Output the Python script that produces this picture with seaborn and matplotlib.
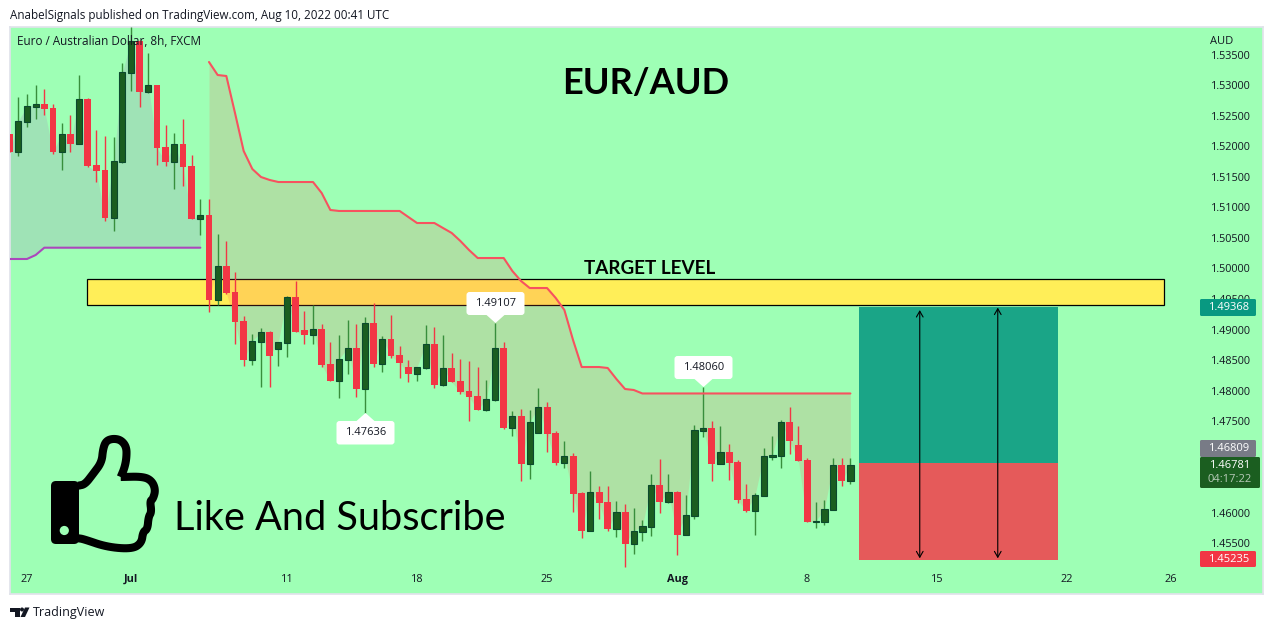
import numpy as np
import pandas as pd
import matplotlib
matplotlib.use("Agg")
import matplotlib.pyplot as plt
import seaborn as sns
from matplotlib.patches import Rectangle, FancyBboxPatch, Polygon, Circle

# EUR/AUD 8h candles
opens = [1.52200, 1.51910, 1.52401, 1.52646, 1.52686, 1.52625, 1.51910, 1.52195, 1.52041, 1.52773,
         1.51692, 1.51611, 1.50825, 1.51741, 1.53202, 1.53722, 1.52887, 1.52997, 1.51987, 1.51741,
         1.52037, 1.51676, 1.50809, 1.50874, 1.49483, 1.50039, 1.49613, 1.49139, 1.48501, 1.48800,
         1.48959, 1.48681, 1.48784, 1.49532, 1.48992, 1.48910, 1.49008, 1.48435, 1.48157, 1.48501,
         1.48697, 1.48026, 1.49106, 1.48435, 1.48845, 1.48583, 1.48386, 1.48272, 1.48370, 1.48762,
         1.48092, 1.48370, 1.48157, 1.47993, 1.47911, 1.47682, 1.47846, 1.48697, 1.47388, 1.47584,
         1.46798, 1.47306, 1.47731, 1.47306, 1.46815, 1.46930, 1.46324, 1.45702, 1.46340, 1.46176,
         1.45735, 1.46012, 1.45489, 1.45685, 1.45767, 1.46455, 1.46176, 1.46340, 1.45636, 1.45947,
         1.47339, 1.47388, 1.46798, 1.46995, 1.46831, 1.46226, 1.46029, 1.46274, 1.46913, 1.46930,
         1.47486, 1.47110, 1.46864, 1.45849, 1.45849, 1.46045, 1.46782, 1.46520]
highs = [1.52200, 1.52801, 1.52855, 1.53002, 1.52937, 1.52691, 1.52380, 1.52511, 1.53165, 1.52789,
         1.52265, 1.52167, 1.52151, 1.53362, 1.53946, 1.53738, 1.53526, 1.52997, 1.52347, 1.52216,
         1.52446, 1.51856, 1.51136, 1.51136, 1.50563, 1.50449, 1.49941, 1.49221, 1.48926, 1.49025,
         1.48976, 1.48795, 1.49548, 1.49794, 1.49303, 1.49401, 1.49090, 1.48795, 1.48910, 1.49155,
         1.49090, 1.49204, 1.49434, 1.48894, 1.49237, 1.48730, 1.48501, 1.48386, 1.49074, 1.49041,
         1.48910, 1.48615, 1.48517, 1.48485, 1.48386, 1.48173, 1.49107, 1.48795, 1.47666, 1.47699,
         1.47682, 1.48043, 1.47813, 1.47339, 1.47175, 1.46979, 1.46340, 1.46684, 1.46438, 1.46438,
         1.46193, 1.46144, 1.46078, 1.45882, 1.46635, 1.46880, 1.46635, 1.46357, 1.46291, 1.47437,
         1.48060, 1.47502, 1.47421, 1.47126, 1.46864, 1.46471, 1.46324, 1.47061, 1.47257, 1.47519,
         1.47731, 1.47421, 1.46897, 1.46176, 1.46209, 1.46897, 1.46897, 1.46897]
lows = [1.51910, 1.51840, 1.52319, 1.52446, 1.52511, 1.51873, 1.51611, 1.51905, 1.52041, 1.51664,
        1.51414, 1.50776, 1.50613, 1.51725, 1.52904, 1.52641, 1.52876, 1.51692, 1.51676, 1.51300,
        1.51348, 1.50809, 1.50547, 1.49286, 1.49401, 1.49581, 1.48762, 1.48403, 1.48419, 1.48059,
        1.48059, 1.48403, 1.48550, 1.48959, 1.48762, 1.48762, 1.48386, 1.48157, 1.47879, 1.48272,
        1.47895, 1.47636, 1.48386, 1.48304, 1.48534, 1.48206, 1.48140, 1.48157, 1.48353, 1.48043,
        1.48075, 1.48140, 1.47944, 1.47502, 1.47682, 1.47666, 1.47830, 1.47372, 1.47257, 1.46520,
        1.46553, 1.47306, 1.46995, 1.46782, 1.46733, 1.46012, 1.45587, 1.45702, 1.45898, 1.45702,
        1.45603, 1.45112, 1.45325, 1.45538, 1.45620, 1.45996, 1.46160, 1.45309, 1.45636, 1.45898,
        1.47240, 1.46520, 1.46798, 1.46537, 1.46160, 1.46012, 1.45636, 1.46274, 1.46864, 1.46733,
        1.46962, 1.46847, 1.45849, 1.45751, 1.45800, 1.46045, 1.46438, 1.46471]
closes = [1.51910, 1.52413, 1.52653, 1.52686, 1.52609, 1.51910, 1.52195, 1.52041, 1.52768, 1.51676,
          1.51595, 1.50825, 1.51753, 1.53209, 1.53722, 1.52887, 1.52997, 1.51971, 1.51741, 1.52032,
          1.51659, 1.50809, 1.50874, 1.49483, 1.50039, 1.49592, 1.49123, 1.48501, 1.48812, 1.48959,
          1.48566, 1.48795, 1.49532, 1.48964, 1.48915, 1.49008, 1.48419, 1.48157, 1.48517, 1.48697,
          1.48026, 1.49106, 1.48435, 1.48845, 1.48566, 1.48452, 1.48272, 1.48386, 1.48762, 1.48092,
          1.48370, 1.48140, 1.47977, 1.47895, 1.47682, 1.47862, 1.48697, 1.47388, 1.47584, 1.46798,
          1.47486, 1.47731, 1.47289, 1.46815, 1.46930, 1.46307, 1.45702, 1.46340, 1.46160, 1.45735,
          1.46012, 1.45489, 1.45702, 1.45784, 1.46455, 1.46176, 1.46340, 1.45636, 1.45964, 1.47355,
          1.47388, 1.46798, 1.46995, 1.46815, 1.46209, 1.46029, 1.46291, 1.46930, 1.46946, 1.47486,
          1.47175, 1.46847, 1.45849, 1.45865, 1.46062, 1.46782, 1.46520, 1.46781]

# indicator lines, candle 0-22 and candle 23-97
purple_line = [1.50154, 1.50154, 1.50154, 1.50219] + [1.50339] * 19
red_line = [1.53378, 1.53165, 1.53149, 1.52544, 1.51922, 1.51627, 1.51496, 1.51447, 1.51414, 1.51414,
            1.51414, 1.51414, 1.51414, 1.51234, 1.50956, 1.50940, 1.50940, 1.50940, 1.50940, 1.50940,
            1.50940, 1.50940, 1.50940, 1.50841, 1.50743, 1.50743, 1.50743, 1.50661, 1.50580, 1.50449,
            1.50301, 1.50170, 1.50170, 1.50170, 1.50170, 1.49957, 1.49794, 1.49679, 1.49679, 1.49679,
            1.49516, 1.49319, 1.48828, 1.48386, 1.48386, 1.48386, 1.48370, 1.48190, 1.48026, 1.48010] + [1.47953] * 25

# position tool and target zone
target_price = 1.49368
entry_price = 1.46809
stop_price = 1.45235
last_price = 1.46781
zone_top = 1.49826
zone_bottom = 1.49401

# 1.465 and 1.470 sit behind the price tags, so they are left out
price_ticks = [1.455, 1.46, 1.475, 1.48, 1.485, 1.49, 1.495, 1.5, 1.505, 1.51, 1.515, 1.52, 1.525, 1.53, 1.535]
date_ticks = [2, 14, 32, 47, 62, 77, 92, 107, 122, 134]
date_labels = ["27", "Jul", "11", "18", "25", "Aug", "8", "15", "22", "26"]

BG = "#9EFFB5"
DOWN = "#F23645"
UP = "#1B5E20"
UP_EDGE = "#0B4A2E"
UP_WICK = "#388E3C"
INK = "#131722"

sns.set_theme(style="white")
plt.rcParams["font.family"] = ["Open Sans", "DejaVu Sans"]

df = pd.DataFrame({"open": opens, "high": highs, "low": lows, "close": closes})
df["idx"] = df.index
up = df[df.close >= df.open]
down = df[df.close < df.open]

W, H = 1274, 630
fig = plt.figure(figsize=(W / 100, H / 100), dpi=100, facecolor="white")
ax = fig.add_axes([10 / W, 1 - 594 / H, 1253 / W, 567 / H], facecolor=BG)
ax.set_xlim(0.042, 144.6)
ax.set_ylim(1.44671, 1.53951)
for s in ax.spines.values():
    s.set_color("#E0E3EB")

# target zone sits under the shaded bands
ax.add_patch(Rectangle((8.9, zone_bottom), 124.3, zone_top - zone_bottom, fc="#FFEE58", ec="black", lw=0.9, zorder=1))

# shaded bands
ax.fill_between(df.idx[:23], purple_line, closes[:23], color="#AB47BC", alpha=0.15, lw=0, zorder=2)
ax.fill_between(df.idx[23:], red_line, closes[23:], color="#FF5252", alpha=0.17, lw=0, zorder=2)

# position tool
ax.add_patch(Rectangle((98, entry_price), 23, target_price - entry_price, fc="#1AA587", lw=0, zorder=2))
ax.add_patch(Rectangle((98, stop_price), 23, entry_price - stop_price, fc="#E55A5A", lw=0, zorder=2))
for xa, top in [(105, target_price - 0.0005), (114, target_price - 0.0001)]:
    ax.annotate("", xy=(xa, top), xytext=(xa, stop_price + 0.0002),
                arrowprops=dict(arrowstyle="<->,head_length=0.35,head_width=0.2", color="black", lw=0.8,
                                shrinkA=0, shrinkB=0), zorder=4)

# candles
ax.vlines(up.idx, up.low, up.high, color=UP_WICK, lw=1, zorder=3)
ax.vlines(down.idx, down.low, down.high, color=DOWN, lw=1, zorder=3)
ax.bar(up.idx, up.close - up.open, bottom=up.open, width=0.72, color=UP, edgecolor=UP_EDGE, lw=0.8, zorder=3)
ax.bar(down.idx, down.close - down.open, bottom=down.open, width=0.8, color=DOWN, lw=0, zorder=3)

# indicator lines
sns.lineplot(x=df.idx[:23], y=purple_line, color="#AB47BC", lw=1.5, ax=ax, zorder=3, errorbar=None)
sns.lineplot(x=df.idx[23:], y=red_line, color="#F7525F", lw=1.5, ax=ax, zorder=3, errorbar=None)
ax.set_xlabel("")
ax.set_ylabel("")

ax.yaxis.tick_right()
ax.set_yticks(price_ticks)
ax.set_yticklabels([f"{p:.5f}" for p in price_ticks])
ax.set_xticks(date_ticks)
ax.set_xticklabels(date_labels)
ax.tick_params(axis="y", length=0, pad=-37.5, labelsize=7.8, labelcolor=INK)
ax.tick_params(axis="x", length=0, pad=-14.5, labelsize=7.8, labelcolor=INK)
for lab in ax.get_yticklabels():
    lab.set_ha("left")
for lab in ax.get_xticklabels():
    if lab.get_text() in ("Jul", "Aug"):
        lab.set_fontweight("bold")

# overlay in image pixels for the texts and tags
ov = fig.add_axes([0, 0, 1, 1], facecolor="none")
ov.set_xlim(0, W)
ov.set_ylim(H, 0)
ov.axis("off")

ov.text(10, 15, "AnabelSignals published on TradingView.com, Aug 10, 2022 00:41 UTC", fontsize=8.35, color=INK, va="center")
ov.text(17, 41.5, "Euro / Australian Dollar, 8h, FXCM", fontsize=8.5, color=INK, va="center")
ov.text(1210, 41, "AUD", fontsize=8, color=INK, va="center")
ov.text(646, 84, "EUR/AUD", fontsize=26, fontweight="bold", family="Lato", color="black", ha="center", va="center")
ov.text(650, 268.5, "TARGET LEVEL", fontsize=13.6, fontweight="bold", family="Lato", color="black", ha="center", va="center")
ov.text(174, 518.5, "Like And Subscribe", fontsize=28.6, family="Lato", color="black", va="center")
ov.text(33, 612.5, "TradingView", fontsize=9, color=INK, va="center")


def price_tag(value, y0, y1, color, x1=1256, extra=None):
    ov.add_patch(FancyBboxPatch((1201, y0 + 1), x1 - 1202, y1 - y0 - 2, boxstyle="round,pad=1,rounding_size=1.5", fc=color, lw=0))
    if extra:
        ov.text(1230, y0 + 8.5, f"{value:.5f}", color="white", fontsize=8, ha="center", va="center")
        ov.text(1230, y0 + 23, extra, color="#B7CBB8", fontsize=8, ha="center", va="center")
    else:
        ov.text(1229, (y0 + y1) / 2, f"{value:.5f}", color="white", fontsize=8, ha="center", va="center")


price_tag(target_price, 299, 316, "#089981")
price_tag(entry_price, 440, 457, "#787B86")
price_tag(last_price, 457, 488, UP, x1=1260, extra="04:17:22")
price_tag(stop_price, 551, 567, DOWN)


def callout(value, cx, y0, y1, apex):
    ov.add_patch(FancyBboxPatch((cx - 27, y0 + 2), 54, y1 - y0 - 4, boxstyle="round,pad=2,rounding_size=3", fc="white", lw=0))
    base = y1 if apex > y1 else y0
    ov.add_patch(Polygon([(cx - 9, base), (cx + 9, base), (cx, apex)], fc="white", lw=0))
    ov.text(cx, (y0 + y1) / 2, f"{value:.5f}", color=INK, fontsize=8, ha="center", va="center")


callout(lows[41], 365.5, 421, 444.5, 413)
callout(highs[56], 495.5, 292, 315, 323)
callout(highs[80], 703.5, 356, 379, 387)


def rounded(points, passes=3):
    # corner cutting, the two end points stay where they are
    pts = np.array(points, dtype=float)
    for _ in range(passes):
        a = pts[:-1] * 0.75 + pts[1:] * 0.25
        b = pts[:-1] * 0.25 + pts[1:] * 0.75
        cut = np.empty((len(a) * 2, 2))
        cut[0::2] = a
        cut[1::2] = b
        pts = np.vstack([pts[0], cut, pts[-1]])
    return pts


# thumbs up, split at the notch so that corner stays sharp
thumb_top = [(78.3, 485.7), (85, 484.3), (93, 474), (101.7, 462.3), (103, 449), (106, 441), (113, 438.5),
             (121, 440), (126.5, 447), (126.5, 458), (124.5, 468), (120.7, 477)]
thumb_fingers = [(120.7, 477), (143.3, 476.5), (152, 481), (155.5, 490), (153, 499), (150, 501), (151.5, 512),
                 (148.5, 517), (147.5, 529), (143, 532), (141.5, 543), (132, 549), (106.7, 547), (83.3, 539), (78.3, 538.3)]
for seg in (thumb_top, thumb_fingers):
    line = rounded(seg)
    ov.plot(line[:, 0], line[:, 1], color="black", lw=5.8, solid_joinstyle="round", solid_capstyle="butt")
ov.add_patch(FancyBboxPatch((55, 485), 20, 55, boxstyle="round,pad=4,rounding_size=5", fc="black", lw=0))
ov.add_patch(Circle((64.3, 530.5), 4.6, fc=BG, lw=0))

# TradingView logo
ov.add_patch(Polygon([(10, 607.5), (19.5, 607.5), (19.5, 617), (15, 617), (15, 611.5), (10, 611.5)], fc=INK, lw=0))
ov.add_patch(Circle((22, 609.5), 2, fc=INK, lw=0))
ov.add_patch(Polygon([(25, 607.5), (29.5, 607.5), (25, 617), (20.5, 617)], fc=INK, lw=0))

fig.savefig("out.png", dpi=100)
